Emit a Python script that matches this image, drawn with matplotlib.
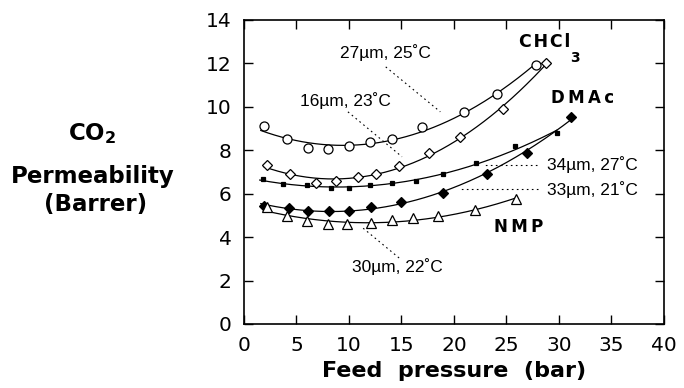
import numpy as np
import matplotlib.pyplot as plt

# CO2 permeability vs feed pressure, membranes cast from different solvents
x_chcl3_a = [1.9, 4.1, 6.1, 8.0, 10.0, 12.0, 14.1, 17.0, 21.0, 24.1, 27.8]
y_chcl3_a = [9.12, 8.5, 8.1, 8.05, 8.2, 8.4, 8.5, 9.06, 9.74, 10.6, 11.94]

x_chcl3_b = [2.2, 4.4, 6.9, 8.8, 10.9, 12.6, 14.8, 17.6, 20.6, 24.7, 28.8]
y_chcl3_b = [7.33, 6.91, 6.48, 6.59, 6.76, 6.91, 7.28, 7.86, 8.6, 9.92, 12.0]

x_dmac_a = [1.8, 3.7, 6.0, 8.25, 10.0, 12.0, 14.1, 16.4, 19.0, 22.1, 25.8, 29.8]
y_dmac_a = [6.67, 6.44, 6.38, 6.25, 6.25, 6.38, 6.48, 6.6, 6.91, 7.4, 8.2, 8.79]

x_dmac_b = [1.9, 4.3, 6.1, 8.1, 10.0, 12.1, 15.0, 19.0, 23.1, 27.0, 31.1]
y_dmac_b = [5.44, 5.33, 5.22, 5.19, 5.22, 5.38, 5.6, 6.05, 6.91, 7.86, 9.52]

x_nmp = [2.2, 4.1, 6.0, 8.0, 9.8, 12.1, 14.1, 16.1, 18.5, 22.0, 25.9]
y_nmp = [5.38, 4.95, 4.75, 4.6, 4.6, 4.67, 4.79, 4.87, 4.98, 5.25, 5.74]

# film thickness / casting temperature notes: text pos, leader start, leader end
notes = ["27\u00b5m, 25\u02daC", "16\u00b5m, 23\u02daC", "34\u00b5m, 27\u02daC",
         "33\u00b5m, 21\u02daC", "30\u00b5m, 22\u02daC"]
note_xy = [(13.5, 12.5), (9.7, 10.3), (28.9, 7.33), (28.9, 6.2), (10.3, 2.64)]
note_ha = ["center", "center", "left", "left", "left"]
lead_from = [(13.5, 11.84), (9.9, 9.77), (27.9, 7.33), (28.0, 6.2), (11.35, 4.41)]
lead_to = [(18.7, 9.77), (15.05, 7.7), (22.8, 7.33), (20.6, 6.2), (14.8, 3.03)]

fig = plt.figure(figsize=(6.84, 3.88), dpi=100)
ax = fig.add_axes([0.3567, 0.165, 0.614, 0.7835])

series = [
    (x_chcl3_a, y_chcl3_a, dict(marker='o', ms=6.5, mfc='white')),
    (x_chcl3_b, y_chcl3_b, dict(marker='D', ms=5, mfc='white')),
    (x_dmac_a, y_dmac_a, dict(marker='s', ms=3.2, mfc='black')),
    (x_dmac_b, y_dmac_b, dict(marker='D', ms=5, mfc='black')),
    (x_nmp, y_nmp, dict(marker='^', ms=6.5, mfc='white')),
]
for xs, ys, st in series:
    xs = np.array(xs)
    ys = np.array(ys)
    c = np.polyfit(xs, ys, 2)
    xf = np.linspace(xs.min() - 0.3, xs.max(), 200)
    ax.plot(xf, np.polyval(c, xf), color='black', lw=0.9, zorder=2)
    ax.plot(xs, ys, ls='none', mec='black', mew=0.9, zorder=3, **st)

for t, p, ha, a, b in zip(notes, note_xy, note_ha, lead_from, lead_to):
    ax.text(p[0], p[1], t, ha=ha, va='center', fontsize=12.5,
            family='Liberation Sans')
    ax.plot([a[0], b[0]], [a[1], b[1]], color='black', lw=0.8,
            ls=(0, (1.5, 3)))

ax.text(28.6, 13.0, "C\u200aH\u200aC\u200al", fontsize=12.5, fontweight='bold',
        ha='center', va='center')
ax.text(31.1, 12.25, "3", fontsize=10, fontweight='bold', ha='left',
        va='center')
ax.text(32.2, 10.4, "D\u2009M\u2009A\u2009c", fontsize=12, fontweight='bold',
        ha='center', va='center')
ax.text(23.8, 4.45, "N\u2009M\u2009P", fontsize=12, fontweight='bold',
        ha='left', va='center')

ax.set_xlim(0, 40)
ax.set_ylim(0, 14)
ax.set_xticks(np.arange(0, 41, 5))
ax.set_yticks(np.arange(0, 15, 2))
ax.tick_params(direction='in', length=6.5, width=1, top=True, right=True,
               labelsize=14.5, pad=9)
for s in ax.spines.values():
    s.set_linewidth(1.2)

ax.set_xlabel("Feed  pressure  (bar)", fontsize=16, fontweight='bold',
              labelpad=4)
fig.text(0.135, 0.657, r"$\mathbf{CO}_\mathbf{2}$", fontsize=16.5,
         ha='center', va='center')
fig.text(0.135, 0.545, "Permeability", fontsize=16.5, fontweight='bold',
         ha='center', va='center')
fig.text(0.139, 0.474, "(Barrer)", fontsize=16.5, fontweight='bold',
         ha='center', va='center')

fig.savefig("out.png", dpi=100)
